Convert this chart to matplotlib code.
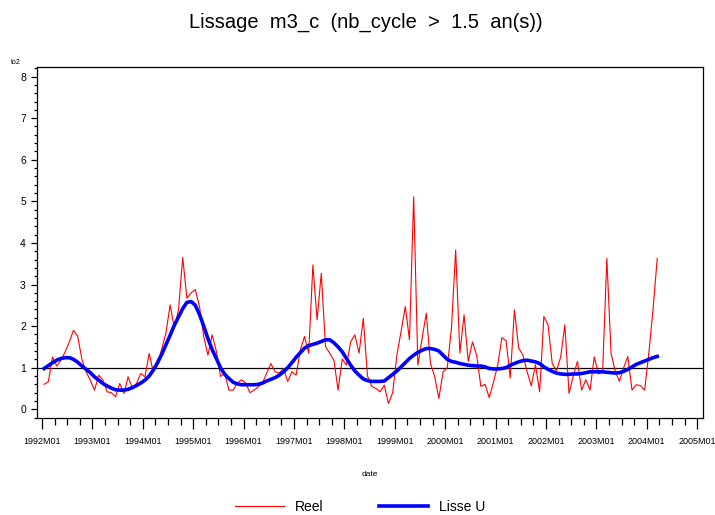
import numpy as np
import matplotlib
matplotlib.use("Agg")
import matplotlib.pyplot as plt
from matplotlib.ticker import MultipleLocator, FixedLocator

plt.rcParams["font.family"] = ["Liberation Sans", "DejaVu Sans"]

# Series mensuelles a partir de 1992M01 (en centaines, "to2")
reel = [
    0.60, 0.66, 1.26, 1.04, 1.18, 1.38, 1.62, 1.90, 1.75, 1.20,
    0.90, 0.70, 0.46, 0.82, 0.70, 0.42, 0.40, 0.30, 0.62, 0.38,
    0.78, 0.51, 0.62, 0.86, 0.78, 1.34, 0.90, 1.10, 1.45, 1.83,
    2.51, 1.95, 2.39, 3.65, 2.67, 2.80, 2.88, 2.47, 1.75, 1.30,
    1.79, 1.40, 0.79, 0.87, 0.46, 0.46, 0.63, 0.71, 0.63, 0.40,
    0.46, 0.54, 0.63, 0.87, 1.10, 0.90, 0.87, 0.98, 0.67, 0.90,
    0.82, 1.42, 1.75, 1.35, 3.47, 2.15, 3.27, 1.51, 1.35, 1.18,
    0.46, 1.21, 1.06, 1.62, 1.79, 1.35, 2.19, 0.80, 0.55, 0.50,
    0.42, 0.58, 0.14, 0.40, 1.30, 1.87, 2.47, 1.67, 5.11, 1.06,
    1.70, 2.31, 1.10, 0.79, 0.26, 0.90, 1.00, 1.95, 3.83, 1.35,
    2.27, 1.15, 1.62, 1.30, 0.55, 0.60, 0.28, 0.65, 1.05, 1.72,
    1.65, 0.75, 2.39, 1.47, 1.31, 0.91, 0.56, 1.07, 0.42, 2.23,
    2.03, 1.10, 0.93, 1.25, 2.03, 0.38, 0.80, 1.15, 0.46, 0.71,
    0.46, 1.26, 0.85, 0.91, 3.63, 1.35, 0.91, 0.67, 1.00, 1.27,
    0.46, 0.59, 0.57, 0.46, 1.35, 2.40, 3.63,
]

lisse_u = [
    0.98, 1.05, 1.12, 1.18, 1.22, 1.24, 1.24, 1.20, 1.13, 1.04,
    0.96, 0.88, 0.78, 0.70, 0.62, 0.56, 0.51, 0.47, 0.46, 0.46,
    0.48, 0.52, 0.57, 0.63, 0.70, 0.80, 0.94, 1.12, 1.32, 1.55,
    1.78, 2.02, 2.22, 2.42, 2.57, 2.59, 2.50, 2.28, 2.00, 1.70,
    1.44, 1.22, 1.00, 0.84, 0.74, 0.65, 0.61, 0.59, 0.59, 0.59,
    0.59, 0.60, 0.63, 0.68, 0.72, 0.76, 0.82, 0.90, 1.00, 1.12,
    1.25, 1.36, 1.47, 1.53, 1.56, 1.59, 1.63, 1.67, 1.67, 1.60,
    1.50, 1.38, 1.22, 1.06, 0.92, 0.82, 0.73, 0.69, 0.67, 0.67,
    0.67, 0.68, 0.76, 0.84, 0.92, 1.02, 1.12, 1.22, 1.30, 1.37,
    1.42, 1.46, 1.46, 1.44, 1.40, 1.30, 1.20, 1.15, 1.13, 1.10,
    1.08, 1.06, 1.05, 1.04, 1.04, 1.02, 0.98, 0.97, 0.97, 0.98,
    1.00, 1.06, 1.10, 1.14, 1.17, 1.18, 1.16, 1.14, 1.10, 1.02,
    0.96, 0.91, 0.87, 0.85, 0.84, 0.84, 0.85, 0.85, 0.86, 0.88,
    0.90, 0.90, 0.90, 0.90, 0.89, 0.88, 0.87, 0.88, 0.91, 0.96,
    1.02, 1.08, 1.12, 1.16, 1.20, 1.24, 1.27,
]

annees = list(range(1992, 2006))
etiquettes_x = [f"{a}M01" for a in annees]

# position en mois depuis 1992M01, point au milieu du mois
mois = np.arange(len(reel)) + 0.5
pos_annees = [(a - 1992) * 12 for a in annees]

W, H = 715, 515
fig = plt.figure(figsize=(W / 100, H / 100), dpi=100)
fig.patch.set_facecolor("white")
ax = fig.add_axes([37 / W, 97 / H, 666 / W, 351 / H])

ax.plot(mois, reel, color="#FF0000", lw=0.8, label="Reel")
ax.plot(mois, lisse_u, color="#0000FF", lw=2.6, label="Lisse U")
ax.axhline(1, color="black", lw=0.9, zorder=1)

ax.set_xlim(-1.2, 157.4)
ax.set_ylim(-0.21, 8.23)

ax.xaxis.set_major_locator(FixedLocator(pos_annees))
ax.set_xticklabels(etiquettes_x)
ax.xaxis.set_minor_locator(MultipleLocator(3))
ax.yaxis.set_major_locator(MultipleLocator(1))
ax.yaxis.set_minor_locator(MultipleLocator(0.2))

ax.tick_params(axis="x", which="major", direction="out", length=8, width=0.9,
               labelsize=6.5, pad=6)
ax.tick_params(axis="x", which="minor", direction="out", length=5, width=0.9)
ax.tick_params(axis="y", which="major", direction="out", length=4, width=0.9,
               labelsize=7.5, pad=4)
ax.tick_params(axis="y", which="minor", direction="out", length=2.5, width=0.9)
for s in ax.spines.values():
    s.set_linewidth(0.9)

ax.set_xlabel("date", fontsize=6, labelpad=18)
fig.text(16 / W, 1 - 62 / H, "to2", fontsize=5, ha="center", va="center")

fig.suptitle("Lissage  m3_c  (nb_cycle  >  1.5  an(s))", fontsize=14.5,
             x=366 / W, y=1 - 22 / H, va="center")

fig.legend(loc="center", bbox_to_anchor=(360 / W, 1 - 507 / H), ncol=2,
           frameon=False, fontsize=10, handlelength=3.5, handletextpad=0.8,
           columnspacing=4.0)

fig.savefig("out.png", dpi=100)
